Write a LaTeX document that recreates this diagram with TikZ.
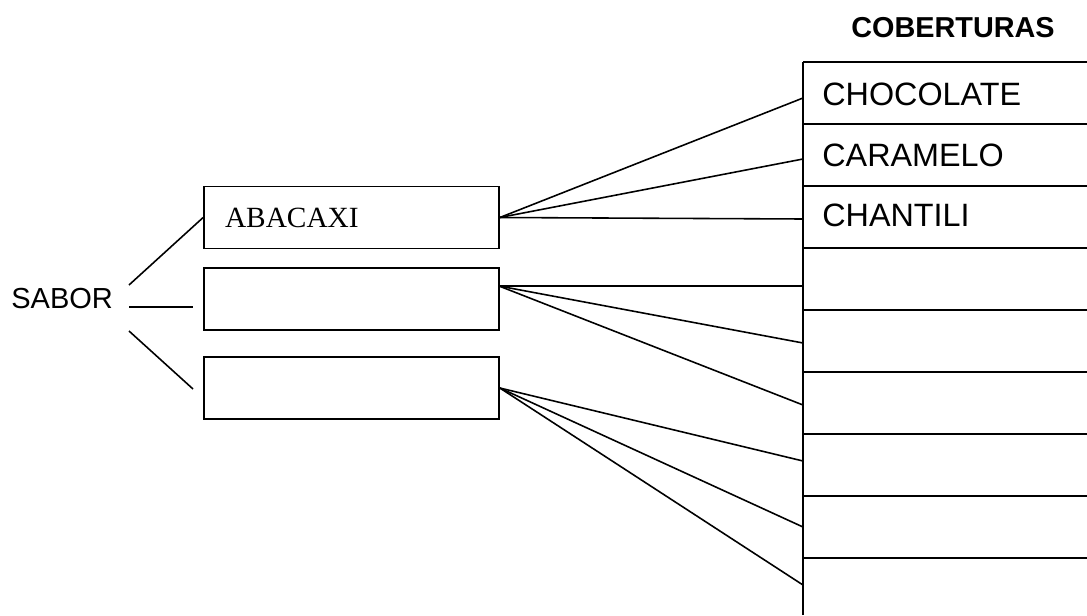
\documentclass[tikz,border=0pt]{standalone}
\usepackage{fontspec}
\setmainfont{Liberation Sans}
\newfontfamily\timesfont{Liberation Serif}
\usetikzlibrary{positioning}

\begin{document}
\begin{tikzpicture}[x=0.02cm,y=-0.02cm,
    caixa/.style={draw, line width=1pt, minimum width=5.9cm, minimum height=1.24cm, inner sep=0pt},
    texto/.style={anchor=base west, inner sep=0pt, font=\fontsize{18.4}{21}\selectfont},
    linha/.style={line width=0.9pt},
    tabela/.style={line width=1.1pt}]
    \useasboundingbox (0,0) rectangle (1087,615);

    % sabores
    \node[texto, font=\fontsize{16.5}{19}\selectfont] (sabor) at (11,308) {SABOR};
    \node[caixa, text width=5.06cm, inner xsep=0.42cm, align=left,
          font=\timesfont\fontsize{16.7}{19}\selectfont] (abacaxi) at (351.5,217.5) {ABACAXI};
    \node[caixa] (caixaB) at (351.5,299) {};
    \node[caixa] (caixaC) at (351.5,388) {};

    \coordinate (s1) at (129,285);
    \coordinate (s2) at (129,307);
    \coordinate (s3) at (129,331);
    \coordinate (e2) at (193,307);
    \coordinate (e3) at (193,389);
    \draw[linha] (s1) -- (abacaxi.west);
    \draw[linha] (s2) -- (e2);
    \draw[linha] (s3) -- (e3);

    % coberturas
    \node[texto, font=\bfseries\fontsize{16.4}{19}\selectfont] (coberturas) at (851,37.3) {COBERTURAS};
    \draw[tabela] (803,615) -- (803,62);
    \foreach \y in {62,124,...,558}
	\draw[tabela] (803,\y) -- (1087,\y);
    \node[texto] (chocolate) at (822,105) {CHOCOLATE};
    \node[texto] (caramelo) at (822,166.7) {CARAMELO};
    \node[texto] (chantili) at (822,226.7) {CHANTILI};

    \foreach \n/\y in {1/98,2/159,3/219,4/286,5/343,6/405,7/461,8/527,9/585}
	\coordinate (c\n) at (803,\y);

    \coordinate (sB) at (499,286);
    \foreach \n in {1,2,3}
	\draw[linha] (abacaxi.east) -- (c\n);
    \foreach \n in {4,5,6}
	\draw[linha] (sB) -- (c\n);
    \foreach \n in {7,8,9}
	\draw[linha] (caixaC.east) -- (c\n);
\end{tikzpicture}
\end{document}
